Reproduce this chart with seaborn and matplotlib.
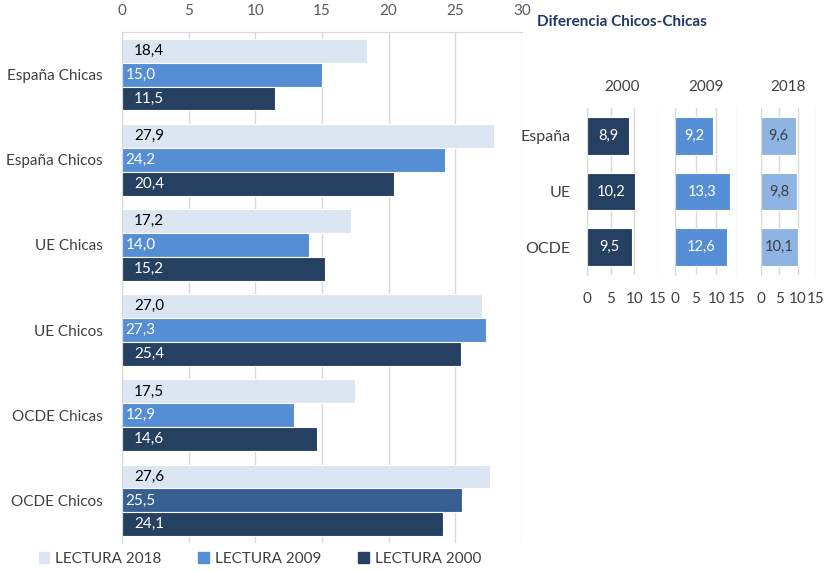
import pandas as pd
import seaborn as sns
import matplotlib.pyplot as plt

categories = ['España Chicas', 'España Chicos', 'UE Chicas', 'UE Chicos', 'OCDE Chicas', 'OCDE Chicos']
lectura_2018 = [18.4, 27.9, 17.2, 27.0, 17.5, 27.6]
lectura_2009 = [15.0, 24.2, 14.0, 27.3, 12.9, 25.5]
lectura_2000 = [11.5, 20.4, 15.2, 25.4, 14.6, 24.1]
series_names = ['LECTURA 2018', 'LECTURA 2009', 'LECTURA 2000']

regions = ['España', 'UE', 'OCDE']
diff_years = ['2000', '2009', '2018']
diff_2000 = [8.9, 10.2, 9.5]
diff_2009 = [9.2, 13.3, 12.6]
diff_2018 = [9.6, 9.8, 10.1]

light, mid, dark = '#DCE6F2', '#558ED5', '#254061'
grid_c = '#D9D9D9'
text_c = '#404040'


def fmt(v):
    return f'{v:.1f}'.replace('.', ',')


sns.set_style('white')
plt.rcParams['font.family'] = ['Lato', 'DejaVu Sans']

fig = plt.figure(figsize=(8.28, 5.72), dpi=100)

# main chart
df = pd.DataFrame({
    'cat': categories * 3,
    'serie': [s for s in series_names for _ in categories],
    'valor': lectura_2018 + lectura_2009 + lectura_2000,
})
ax = fig.add_axes([122 / 828, 1 - 543 / 572, 400 / 828, 511 / 572])
sns.barplot(data=df, y='cat', x='valor', hue='serie', hue_order=series_names,
            order=categories, palette=[light, mid, dark], width=0.84, saturation=1,
            edgecolor='white', linewidth=0.8, ax=ax, legend=False)
# Excel quirk: one bar drawn darker
ax.containers[1].patches[5].set_facecolor('#366092')

for ci, cont in enumerate(ax.containers):
    for bar in cont.patches:
        x0 = 0.25 if ci == 1 else 0.9
        ax.text(x0, bar.get_y() + bar.get_height() / 2, fmt(bar.get_width()),
                va='center', ha='left', fontsize=11,
                color='black' if ci == 0 else 'white')

ax.set_xlim(0, 30)
ax.set_xticks(range(0, 31, 5))
ax.xaxis.tick_top()
ax.tick_params(axis='x', length=0, labelsize=11, labelcolor='#595959', pad=10)
ax.tick_params(axis='y', length=0, labelsize=11, labelcolor=text_c, pad=14)
ax.grid(axis='x', color=grid_c, lw=1)
ax.set_axisbelow(True)
for s in ['right', 'bottom']:
    ax.spines[s].set_visible(False)
ax.spines['top'].set_color(grid_c)
ax.spines['left'].set_color(grid_c)
ax.set_xlabel('')
ax.set_ylabel('')

handles = [plt.Rectangle((0, 0), 1, 1, color=c) for c in [light, mid, dark]]
fig.legend(handles, series_names, loc='center', bbox_to_anchor=(260 / 828, 1 - 559 / 572),
           ncol=3, frameon=False, fontsize=11, handlelength=0.7, handleheight=0.7,
           handletextpad=0.4, columnspacing=2.4, labelcolor=text_c)

# small panels: diferencia chicos-chicas
fig.text(537 / 828, 1 - 22 / 572, 'Diferencia Chicos-Chicas', fontsize=11,
         fontweight='bold', color='#1F3864', va='center')

panels = [
    (587, 71, diff_2000, dark, 'white'),
    (675, 62, diff_2009, mid, 'white'),
    (761, 55, diff_2018, '#8DB4E2', text_c),
]
for i, (x0, w, vals, col, tcol) in enumerate(panels):
    pax = fig.add_axes([x0 / 828, 1 - 275 / 572, w / 828, 167 / 572])
    pdf = pd.DataFrame({'region': regions, 'dif': vals})
    sns.barplot(data=pdf, y='region', x='dif', order=regions, color=col, saturation=1,
                width=0.68, edgecolor='white', linewidth=0.8, ax=pax)
    for bar in pax.patches:
        pax.text(bar.get_width() / 2, bar.get_y() + bar.get_height() / 2,
                 fmt(bar.get_width()), ha='center', va='center', fontsize=10.5, color=tcol)
    pax.set_xlim(0, 15)
    pax.set_xticks([0, 5, 10, 15])
    pax.grid(axis='x', color=grid_c, lw=1)
    pax.set_axisbelow(True)
    for s in ['top', 'right', 'bottom']:
        pax.spines[s].set_visible(False)
    pax.spines['left'].set_color(grid_c)
    pax.set_yticks([-0.5, 0.5, 1.5, 2.5], minor=True)
    pax.tick_params(axis='y', which='minor', length=5, color=grid_c)
    pax.tick_params(axis='x', length=0, labelsize=11, labelcolor=text_c, pad=12)
    pax.tick_params(axis='y', which='major', length=0, labelsize=11.5,
                    labelcolor=text_c, pad=12)
    if i > 0:
        pax.set_yticklabels([])
    pax.set_xlabel('')
    pax.set_ylabel('')
    pax.set_title(diff_years[i], fontsize=11, color=text_c, pad=12)

fig.savefig('out.png', dpi=100)
